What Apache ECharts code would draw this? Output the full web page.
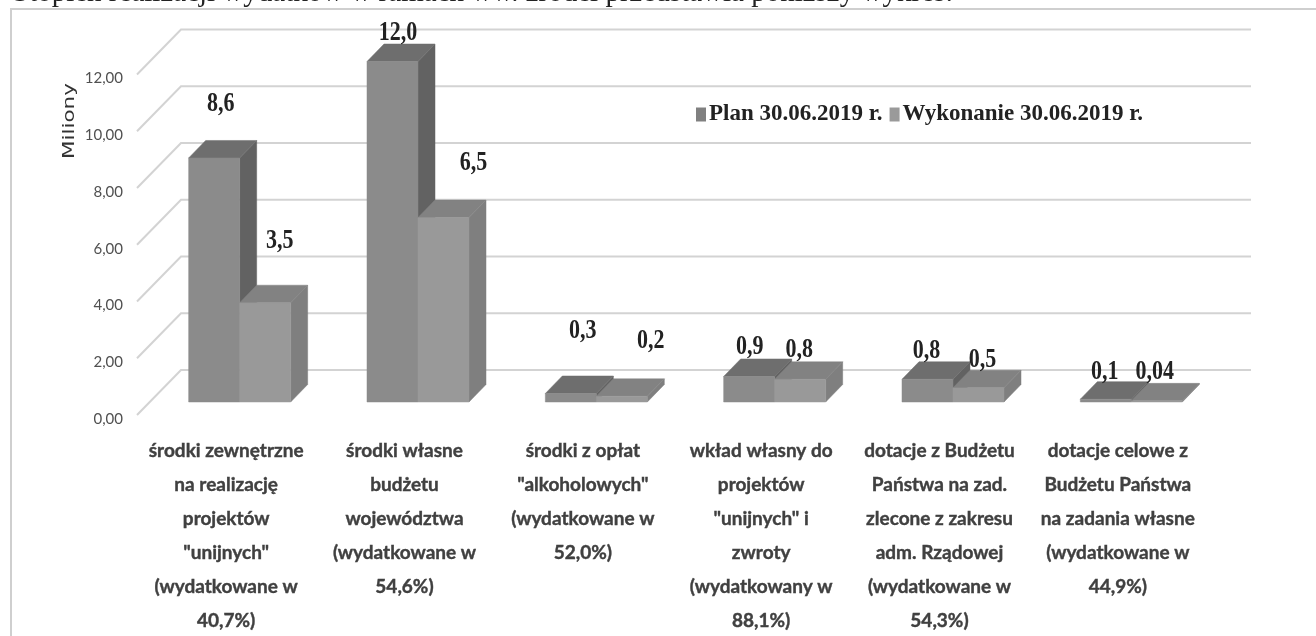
<!DOCTYPE html>
<html><head><meta charset="utf-8">
<style>html,body{margin:0;padding:0;background:#fff}#c{width:1316px;height:636px}</style>
<script src="https://cdn.jsdelivr.net/npm/echarts@6/dist/echarts.min.js"></script></head>
<body><div id="c"></div>
<script>
const heading = 'Stopień realizacji wydatków w ramach ww. źródeł przedstawia poniższy wykres:';
const axisTitle = 'Miliony';
const categories = [
 'środki zewnętrzne\nna realizację\nprojektów\n"unijnych"\n(wydatkowane w\n40,7%)',
 'środki własne\nbudżetu\nwojewództwa\n(wydatkowane w\n54,6%)',
 'środki z opłat\n"alkoholowych"\n(wydatkowane w\n52,0%)',
 'wkład własny do\nprojektów\n"unijnych" i\nzwroty\n(wydatkowany w\n88,1%)',
 'dotacje z Budżetu\nPaństwa na zad.\nzlecone z zakresu\nadm. Rządowej\n(wydatkowane w\n54,3%)',
 'dotacje celowe z\nBudżetu Państwa\nna zadania własne\n(wydatkowane w\n44,9%)'
];
const planValues = [8.6, 12.0, 0.3, 0.9, 0.8, 0.1];
const wykonanieValues = [3.5, 6.5, 0.2, 0.8, 0.5, 0.04];
const planLabels = ['8,6', '12,0', '0,3', '0,9', '0,8', '0,1'];
const wykonanieLabels = ['3,5', '6,5', '0,2', '0,8', '0,5', '0,04'];
const yTicks = [0, 2, 4, 6, 8, 10, 12];

// styling
const planOffsets = [[6.5,-54],[5.5,-28],[12,-62],[0.5,-29],[-1,-28],[-1,-27]];
const wykOffsets = [[14.5,-62],[30,-54],[29,-55],[-1,-29],[4,-28],[-2,-29]];
const wall = [44, 45], floorShift = [13.5, 13], depth = [17, 17.5], barShare = 0.286;
const planStyle = {front:'#8b8b8b', top:'#6e6e6e', side:'#626262'};
const wykStyle = {front:'#999999', top:'#828282', side:'#7f7f7f'};

function barSeries(name, values, labels, offsets, st, legendColor, second) {
  return {
    name, type:'custom', coordinateSystem:'cartesian2d', z:3,
    itemStyle:{color:legendColor},
    encode:{x:0,y:1},
    data: values.map((v,i)=>[i,v]),
    renderItem(params, api) {
      const i = api.value(0), v = api.value(1);
      const p = api.coord([i, v]), b = api.coord([i, 0]);
      const w = api.size([1,0])[0] * barShare;
      const l = p[0] + floorShift[0] - (second ? 0 : w);
      const r = l + w, t = p[1] - floorShift[1], bt = b[1] - floorShift[1];
      const [dx, dy] = depth;
      const poly = (points, fill) => ({type:'polygon', shape:{points}, style:{fill, stroke:fill, lineWidth:0.5}});
      const off = offsets[i];
      return {type:'group', children:[
        poly([[r,t],[r+dx,t-dy],[r+dx,bt-dy],[r,bt]], st.side),
        poly([[l,t],[l+dx,t-dy],[r+dx,t-dy],[r,t]], st.top),
        poly([[l,t],[r,t],[r,bt],[l,bt]], st.front),
        {type:'text', z2:20, x:(l+r)/2+off[0], y:t+off[1], scaleY:1.2,
         style:{text:labels[i], font:'bold 22px "Liberation Serif"', fill:'#222', textAlign:'center', textVerticalAlign:'middle'}}
      ]};
    }
  };
}

const chart = echarts.init(document.getElementById('c'), null, {renderer:'canvas'});
chart.setOption({
  animation:false,
  backgroundColor:'#fff',
  grid:{left:137, top:74.5, width:1070, height:340.5, containLabel:false, outerBoundsMode:'none'},
  legend:{
    left:691, top:98, itemWidth:10, itemHeight:14, itemGap:7,
    icon:'rect', selectedMode:false,
    textStyle:{fontFamily:'Liberation Serif', fontWeight:'bold', fontSize:23, color:'#222', padding:[0,0,0,-2]},
    data:['Plan 30.06.2019 r.','Wykonanie 30.06.2019 r.']
  },
  xAxis:{
    type:'category', data:categories, boundaryGap:true,
    axisLine:{show:false}, axisTick:{show:false}, splitLine:{show:false},
    axisLabel:{interval:0, margin:19, lineHeight:34, fontFamily:'Lato', fontWeight:'bold', fontSize:19, color:'#404040', align:'center', textBorderColor:'#404040', textBorderWidth:0.4}
  },
  yAxis:{
    type:'value', min:0, max:12, interval:2,
    axisLine:{show:false}, axisTick:{show:false}, splitLine:{show:false},
    axisLabel:{margin:14, fontFamily:'Lato', fontSize:15, color:'#505050', verticalAlign:'top', lineHeight:8,
      formatter:v=>v.toFixed(2).replace('.',',')}
  },
  graphic:[
    {type:'polyline', silent:true, z:1, shape:{points:[[11,636],[11,9],[1316,9]]}, style:{stroke:'#cfcfcf', lineWidth:2, fill:null}},
    {type:'text', silent:true, z:1, x:13, y:8, style:{text:heading, font:'29px "Liberation Serif"', fill:'#222', textVerticalAlign:'bottom'}},
    {type:'text', silent:true, z:1, x:70, y:121, rotation:Math.PI/2, scaleX:1.43, style:{text:axisTitle, font:'15px "DejaVu Sans"', fill:'#333', textAlign:'center', textVerticalAlign:'middle'}}
  ],
  series:[
    {
      type:'custom', coordinateSystem:'cartesian2d', z:1, silent:true,
      data:yTicks.map(t=>[0,t]), encode:{x:0,y:1},
      renderItem(params, api) {
        const y = api.coord([0, api.value(1)])[1];
        const x0 = params.coordSys.x, x1 = x0 + params.coordSys.width;
        return {type:'polyline', shape:{points:[[x0,y],[x0+wall[0],y-wall[1]],[x1+wall[0],y-wall[1]]]},
          style:{stroke:'#d3d3d3', lineWidth:2, fill:null}};
      }
    },
    barSeries('Plan 30.06.2019 r.', planValues, planLabels, planOffsets, planStyle, '#808080', false),
    barSeries('Wykonanie 30.06.2019 r.', wykonanieValues, wykonanieLabels, wykOffsets, wykStyle, '#9a9a9a', true)
  ]
});
</script></body></html>
